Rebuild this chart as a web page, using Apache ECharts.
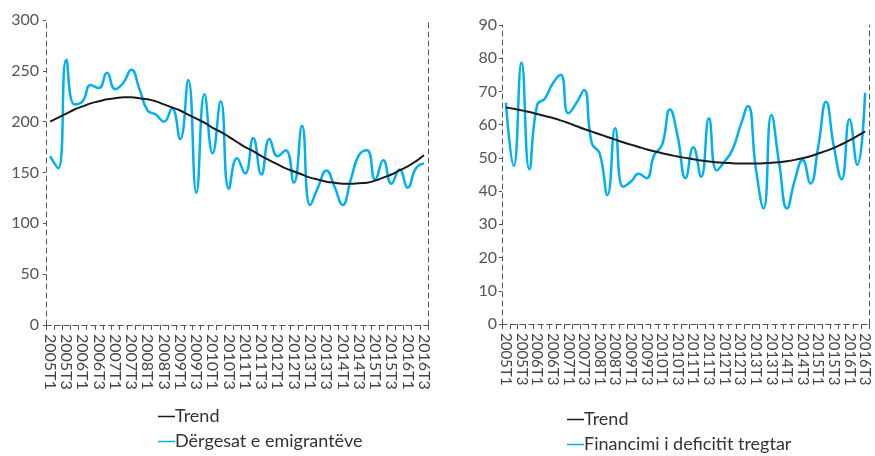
<!DOCTYPE html>
<html>
<head>
<meta charset="utf-8">
<script src="https://cdn.jsdelivr.net/npm/echarts@6/dist/echarts.min.js"></script>
<style>
  html, body { margin: 0; padding: 0; background: #fff; }
  #chart { width: 875px; height: 456px; }
</style>
</head>
<body>
<div id="chart"></div>
<script>
// kategorite tremujore 2005T1 - 2016T3
const quarters = []
for (let y = 2005; y <= 2016; y++) {
  for (let q = 1; q <= 4; q++) {
    if (y === 2016 && q > 3) break
    quarters.push(y + 'T' + q)
  }
}

// Dergesat e emigranteve
const remittances = [
  166, 154, 261, 217, 220, 236, 233, 248, 232, 238,
  251, 232, 211, 207, 200, 213, 183, 241, 130, 227,
  169, 220, 134, 164, 149, 184, 148, 183, 166, 172,
  140, 196, 118, 136, 152, 136, 118, 143, 167, 172,
  143, 162, 139, 153, 135, 154, 159
]
const remittancesTrend = [
  200, 204, 208, 212, 215, 218, 220, 222, 223, 224,
  224, 223, 222, 220, 217, 214, 211, 207, 203, 199,
  194, 190, 185, 180, 175, 171, 166, 162, 158, 154,
  151, 148, 145, 143, 141, 140, 139, 139, 139.5, 140,
  142, 145, 148, 152, 156, 161, 167
]

// Financimi i deficitit tregtar
const financing = [
  66.6, 47.6, 78.7, 46.6, 65.9, 67.9, 72.4, 75.0, 63.4, 66.4,
  70.4, 54.4, 51.4, 38.8, 58.9, 41.3, 42.8, 45.2, 43.9, 50.9,
  53.9, 64.6, 56.4, 43.9, 53.2, 44.3, 61.9, 46.2, 48.9, 52.4,
  59.4, 65.6, 47.0, 34.8, 62.9, 48.4, 34.8, 43.3, 49.4, 42.3,
  53.4, 66.9, 53.4, 43.6, 61.6, 47.9, 69.6
]
const financingTrend = [
  65.2, 64.8, 64.3, 63.8, 63.2, 62.6, 62.0, 61.3, 60.5, 59.6,
  58.7, 57.9, 57.1, 56.3, 55.5, 54.7, 54.0, 53.3, 52.6, 52.0,
  51.4, 50.9, 50.4, 50.0, 49.6, 49.2, 48.9, 48.7, 48.5, 48.4,
  48.3, 48.3, 48.3, 48.4, 48.5, 48.7, 49.0, 49.4, 49.9, 50.5,
  51.3, 52.1, 53.0, 54.1, 55.3, 56.6, 58.0
]

const leftNames = ['Trend', 'Dërgesat e emigrantëve']
const rightNames = ['Trend', 'Financimi i deficitit tregtar']

const FONT = 'Lato'
const dashed = { color: '#555', width: 1, type: [5, 4] }
const blue = '#00b0f0'

const bottomAxis = (gridIndex, fontSize) => ({
  type: 'category',
  gridIndex,
  data: quarters,
  boundaryGap: true,
  axisLine: { lineStyle: dashed },
  axisTick: { show: true, interval: 0, length: 5, lineStyle: { color: '#555' } },
  axisLabel: {
    interval: 1,
    rotate: -90,
    margin: 9,
    color: '#444',
    fontFamily: FONT,
    fontSize,
    hideOverlap: false,
    showMinLabel: true,
    showMaxLabel: true
  }
})

const topAxis = (gridIndex) => ({
  type: 'category',
  gridIndex,
  position: 'top',
  data: quarters,
  axisLine: { lineStyle: dashed },
  axisTick: { show: false },
  axisLabel: { show: false }
})

const leftAxis = (gridIndex, max, interval, margin) => ({
  type: 'value',
  gridIndex,
  min: 0,
  max,
  interval,
  axisLine: { show: true, lineStyle: dashed },
  axisTick: { show: true, length: 3, lineStyle: { color: '#555' } },
  splitLine: { show: false },
  axisLabel: { color: '#555', fontFamily: FONT, fontSize: 16, margin }
})

const rightAxis = (gridIndex, max) => ({
  type: 'value',
  gridIndex,
  position: 'right',
  min: 0,
  max,
  axisLine: { show: true, lineStyle: dashed },
  axisTick: { show: false },
  axisLabel: { show: false },
  splitLine: { show: false }
})

const legendStyle = {
  orient: 'vertical',
  icon: 'rect',
  itemWidth: 17,
  itemHeight: 1.5,
  itemGap: 4,
  height: 60,
  padding: 0,
  textStyle: {
    fontFamily: FONT,
    fontSize: 18,
    color: '#333',
    lineHeight: 21,
    padding: [0, 0, 0, -5]
  }
}

const chart = echarts.init(document.getElementById('chart'))

const option = {
  animation: false,
  grid: [
    { left: 46, right: 447, top: 20, bottom: 131 },
    { left: 502, right: 6, top: 25, bottom: 132 }
  ],
  xAxis: [bottomAxis(0, 16), topAxis(0), bottomAxis(1, 15), topAxis(1)],
  yAxis: [leftAxis(0, 300, 50, 7), rightAxis(0, 300), leftAxis(1, 90, 10, 5), rightAxis(1, 90)],
  legend: [
    Object.assign({ left: 158, top: 406, data: leftNames }, legendStyle),
    Object.assign({ left: 567, top: 409, data: rightNames }, legendStyle)
  ],
  series: [
    {
      name: leftNames[1],
      type: 'line',
      xAxisIndex: 0,
      yAxisIndex: 0,
      data: remittances,
      smooth: 0.5,
      showSymbol: false,
      lineStyle: { color: blue, width: 2.5 },
      itemStyle: { color: blue }
    },
    {
      name: leftNames[0],
      type: 'line',
      xAxisIndex: 0,
      yAxisIndex: 0,
      data: remittancesTrend,
      smooth: true,
      showSymbol: false,
      lineStyle: { color: '#1a1a1a', width: 2 },
      itemStyle: { color: '#1a1a1a' }
    },
    {
      name: rightNames[1],
      type: 'line',
      xAxisIndex: 2,
      yAxisIndex: 2,
      data: financing,
      smooth: 0.5,
      showSymbol: false,
      lineStyle: { color: blue, width: 2.5 },
      itemStyle: { color: blue }
    },
    {
      name: rightNames[0],
      type: 'line',
      xAxisIndex: 2,
      yAxisIndex: 2,
      data: financingTrend,
      smooth: true,
      showSymbol: false,
      lineStyle: { color: '#1a1a1a', width: 2 },
      itemStyle: { color: '#1a1a1a' }
    }
  ]
}

chart.setOption(option)
window.addEventListener('resize', () => chart.resize())
</script>
</body>
</html>
